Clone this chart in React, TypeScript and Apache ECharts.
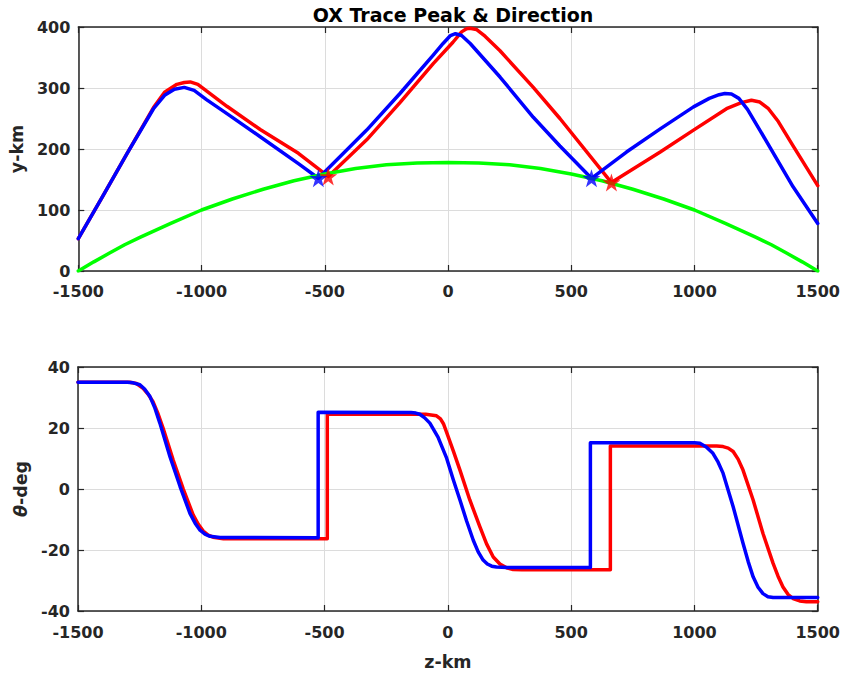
import React, { useEffect, useRef } from "react";
import * as echarts from "echarts";

// ---- data ----
// top panel: z-km vs y-km
const blueTrace: [number, number][] = [
  [-1500, 53], [-1400, 123], [-1303, 192], [-1195, 266], [-1150, 288], [-1110, 298],
  [-1070, 301], [-1030, 296], [-980, 281], [-897, 258], [-762, 220], [-607, 176],
  [-526, 152], [-330, 231], [-195, 291], [-60, 354], [-20, 373], [10, 386], [30, 389],
  [55, 386], [90, 373], [211, 318], [346, 252], [454, 205], [582, 152], [724, 195],
  [861, 233], [996, 269], [1060, 283], [1100, 289], [1123, 291], [1150, 290],
  [1180, 283], [1215, 265], [1265, 231], [1400, 138], [1500, 78],
];
const redTrace: [number, number][] = [
  [-1500, 53], [-1400, 123], [-1303, 192], [-1195, 268], [-1150, 293], [-1100, 306],
  [-1070, 309], [-1046, 310], [-1015, 306], [-960, 289], [-897, 270], [-762, 232],
  [-607, 193], [-486, 155], [-330, 215], [-195, 276], [-60, 340], [20, 375], [55, 392],
  [75, 397], [89, 398], [115, 396], [150, 385], [211, 361], [346, 301], [454, 250],
  [663, 145], [861, 195], [996, 231], [1130, 266], [1190, 276], [1231, 280],
  [1265, 277], [1300, 266], [1340, 245], [1400, 205], [1500, 140],
];
const greenArc: [number, number][] = [
  [-1500, 0], [-1437, 15], [-1375, 29], [-1312, 43], [-1250, 55], [-1125, 78],
  [-1000, 100], [-875, 118], [-750, 134], [-625, 148], [-500, 159], [-375, 168],
  [-250, 174], [-125, 177], [0, 178], [125, 177], [250, 174], [375, 168], [500, 159],
  [625, 148], [750, 134], [875, 118], [1000, 100], [1125, 78], [1250, 55], [1312, 43],
  [1375, 29], [1437, 15], [1500, 0],
];
const blueStars: [number, number][] = [[-526, 152], [582, 152]];
const redStars: [number, number][] = [[-486, 155], [663, 145]];

// bottom panel: z-km vs theta-deg
const blueTheta: [number, number][] = [
  [-1500, 35], [-1300, 35], [-1276, 34.8], [-1249, 34.2], [-1230, 32.8], [-1208, 30.3],
  [-1188, 26.5], [-1168, 21.6], [-1127, 10.6], [-1086, 0.8], [-1046, -8], [-1025, -11.2],
  [-1005, -13.5], [-985, -14.8], [-965, -15.5], [-924, -15.9], [-526, -16], [-526, 25.2],
  [-150, 25.1], [-130, 24.9], [-114, 24.5], [-95, 23.4], [-73, 21.6], [-40, 17],
  [-5, 10.1], [22, 3], [49, -3.6], [76, -10.5], [103, -16.8], [123, -20.6], [143, -23.3],
  [160, -24.6], [178, -25.3], [197, -25.6], [240, -25.7], [578, -25.7], [578, 15.2],
  [1000, 15.2], [1022, 15], [1048, 13.8], [1075, 11.7], [1096, 8.8], [1116, 5.2],
  [1157, -5.8], [1197, -17.8], [1218, -23.8], [1238, -28.8], [1258, -32.2],
  [1278, -34.3], [1298, -35.3], [1319, -35.6], [1500, -35.6],
];
const redTheta: [number, number][] = [
  [-1500, 35], [-1290, 35], [-1263, 34.6], [-1236, 33], [-1216, 31.1], [-1195, 28.5],
  [-1175, 24.6], [-1155, 20], [-1114, 9.5], [-1073, 0], [-1033, -8.5], [-1012, -11.6],
  [-992, -13.8], [-972, -15.1], [-952, -15.8], [-910, -16.3], [-489, -16.3], [-489, 24.6],
  [-90, 24.5], [-46, 24], [-30, 23], [-18, 21.4], [-5, 18.6], [22, 12.5], [49, 6.2],
  [89, -3.6], [130, -12.4], [157, -18], [184, -22.3], [211, -24.6], [238, -25.8],
  [265, -26.4], [300, -26.5], [659, -26.5], [659, 14.1], [1090, 14.1], [1116, 13.9],
  [1137, 13.4], [1157, 12.3], [1177, 9.8], [1197, 6.2], [1238, -3.6], [1278, -14.6],
  [1319, -24.4], [1339, -28.6], [1359, -32.1], [1380, -34.6], [1400, -35.9],
  [1427, -36.7], [1454, -37], [1500, -37],
];

const STAR =
  "path://M12,0 L14.9,8.6 L24,8.6 L16.6,14 L19.4,22.8 L12,17.5 L4.6,22.8 L7.4,14 L0,8.6 L9.1,8.6 Z";

const FONT = "DejaVu Sans";
const INK = "#262626";
const plain = (v: number) => String(v);

function mainX(gridIndex: number, withName: boolean) {
  return {
    type: "value",
    gridIndex,
    position: "bottom",
    min: -1500,
    max: 1500,
    interval: 500,
    axisLine: { show: true, onZero: false, lineStyle: { color: INK, width: 1.5 } },
    axisTick: { show: true, inside: true, length: 6, lineStyle: { color: INK, width: 1.2 } },
    axisLabel: {
      show: true, margin: withName ? 13 : 12, color: INK, fontFamily: FONT, fontWeight: "bold",
      fontSize: 16, showMinLabel: true, showMaxLabel: true, formatter: plain,
    },
    splitLine: { show: true, lineStyle: { color: "#dcdcdc", width: 1 } },
    name: withName ? "z-km" : "",
    nameLocation: "middle",
    nameGap: 42,
    nameTextStyle: { color: INK, fontFamily: FONT, fontWeight: "bold", fontSize: 17.5 },
  };
}
function mirrorX(gridIndex: number) {
  return {
    type: "value",
    gridIndex,
    position: "top",
    min: -1500,
    max: 1500,
    interval: 500,
    axisLine: { show: true, onZero: false, lineStyle: { color: INK, width: 1.5 } },
    axisTick: { show: true, inside: true, length: 6, lineStyle: { color: INK, width: 1.2 } },
    axisLabel: { show: false },
    splitLine: { show: false },
  };
}
function mainY(
  gridIndex: number, min: number, max: number, interval: number, name: string,
  gap: number, rich?: any,
) {
  return {
    type: "value",
    gridIndex,
    position: "left",
    min,
    max,
    interval,
    axisLine: { show: true, onZero: false, lineStyle: { color: INK, width: 1.5 } },
    axisTick: { show: true, inside: true, length: 6, lineStyle: { color: INK, width: 1.2 } },
    axisLabel: {
      show: true, margin: 8, color: INK, fontFamily: FONT, fontWeight: "bold", fontSize: 16,
      showMinLabel: true, showMaxLabel: true, formatter: plain,
    },
    splitLine: { show: true, lineStyle: { color: "#dcdcdc", width: 1 } },
    name,
    nameLocation: "middle",
    nameGap: gap,
    nameTextStyle: { color: INK, fontFamily: FONT, fontWeight: "bold", fontSize: 17.5, rich },
  };
}
function mirrorY(gridIndex: number, min: number, max: number, interval: number) {
  return {
    type: "value",
    gridIndex,
    position: "right",
    min,
    max,
    interval,
    axisLine: { show: true, onZero: false, lineStyle: { color: INK, width: 1.5 } },
    axisTick: { show: true, inside: true, length: 6, lineStyle: { color: INK, width: 1.2 } },
    axisLabel: { show: false },
    splitLine: { show: false },
  };
}

function line(data: [number, number][], color: string, xi: number, yi: number, z: number) {
  return {
    type: "line",
    data,
    xAxisIndex: xi,
    yAxisIndex: yi,
    showSymbol: false,
    symbol: "none",
    lineStyle: { color, width: 3.5, join: "round", cap: "round" },
    z,
    silent: true,
  };
}

export default function App() {
  const ref = useRef<HTMLDivElement>(null);
  useEffect(() => {
    if (!ref.current) return;
    const chart = echarts.init(ref.current, undefined, { renderer: "svg" });
    chart.setOption({
      animation: false,
      backgroundColor: "#ffffff",
      title: {
        text: "OX Trace Peak & Direction",
        left: 448,
        top: 0,
        textAlign: "center",
        textStyle: { color: "#000000", fontFamily: FONT, fontWeight: "bold", fontSize: 19 },
      },
      grid: [
        { left: 78, top: 27, width: 740, height: 244 },
        { left: 78, top: 367, width: 740, height: 244 },
      ],
      xAxis: [mainX(0, false), mirrorX(0), mainX(1, true), mirrorX(1)],
      yAxis: [
        mainY(0, 0, 400, 100, "y-km", 50),
        mirrorY(0, 0, 400, 100),
        mainY(1, -40, 40, 20, "{i|θ}-deg", 45, {
          i: { fontStyle: "italic", fontFamily: FONT, fontWeight: "bold", fontSize: 17.5, color: INK },
        }),
        mirrorY(1, -40, 40, 20),
      ],
      series: [
        line(redTrace, "#ff0000", 0, 0, 2),
        line(blueTrace, "#0000ff", 0, 0, 3),
        line(greenArc, "#00ff00", 0, 0, 4),
        {
          type: "scatter", data: redStars, xAxisIndex: 0, yAxisIndex: 0, symbol: STAR,
          symbolSize: 18, itemStyle: { color: "#ff0000" }, z: 5, silent: true,
        },
        {
          type: "scatter", data: blueStars, xAxisIndex: 0, yAxisIndex: 0, symbol: STAR,
          symbolSize: 18, itemStyle: { color: "#0000ff" }, z: 5, silent: true,
        },
        line(redTheta, "#ff0000", 2, 2, 2),
        line(blueTheta, "#0000ff", 2, 2, 3),
      ],
    });
    return () => chart.dispose();
  }, []);
  return (
    <div
      ref={ref}
      style={{ position: "fixed", left: 0, top: 0, width: 843, height: 679, background: "#fff" }}
    />
  );
}
